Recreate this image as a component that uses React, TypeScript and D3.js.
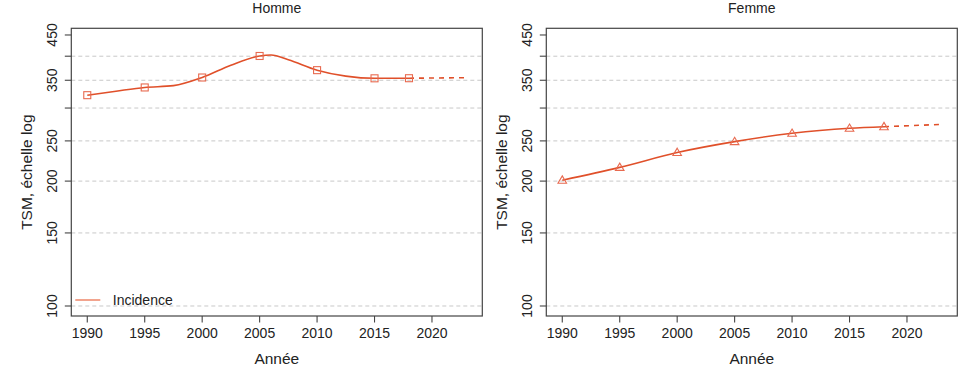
import React from "react";
import * as d3 from "d3";

const panelTitles = ["Homme", "Femme"];
const markerYears = [1990, 1995, 2000, 2005, 2010, 2015, 2018];
const hommeCurveYears = [1990, 1992.5, 1995, 1997.5, 2000, 2002.5, 2005, 2006, 2007.5, 2010, 2012.5, 2015, 2018];
const hommeCurveValues = [322.2, 329.4, 336.3, 339.7, 355.4, 380.4, 400.5, 402.7, 392.3, 370.2, 358.2, 353.8, 354];
const femmeCurveYears = [1990, 1995, 2000, 2005, 2010, 2015, 2018];
const femmeCurveValues = [201, 215.8, 234.4, 249, 260.8, 268.1, 270.5];
const projYears = [2018, 2023];
const hommeProj = [354, 355];
const femmeProj = [270.5, 274];
const xTicks = [1990, 1995, 2000, 2005, 2010, 2015, 2020];
const yTicks = [100, 150, 200, 250, 300, 350, 400, 450];
const yTickLabels = ["100", "150", "200", "250", "", "350", "", "450"];
const gridValues = [100, 150, 200, 250, 300, 350, 400];
const legendLabel = "Incidence";

const W = 971;
const H = 373;
const box = { left: 71.3, right: 482.3, top: 28.3, bottom: 316 };
const panelOffset = 475;
const lineColor = "#E0502A";
const markerColor = "#E86A50";
const textColor = "#222";
const font = "'Liberation Sans', Arial, Helvetica, sans-serif";

function Panel({ idx }: { idx: number }) {
  const dx = idx * panelOffset;
  const x = d3.scaleLinear().domain([1988.61, 2024.38]).range([box.left + dx, box.right + dx]);
  const y = d3.scaleLog().domain([94.6, 467]).range([box.bottom, box.top]);
  const cYears = idx === 0 ? hommeCurveYears : femmeCurveYears;
  const cVals = idx === 0 ? hommeCurveValues : femmeCurveValues;
  const proj = idx === 0 ? hommeProj : femmeProj;
  const pts: [number, number][] = cYears.map((yr, i) => [yr, cVals[i]]);
  const markers: [number, number][] = markerYears.map((yr) => [yr, cVals[cYears.indexOf(yr)]]);
  const projPts: [number, number][] = projYears.map((yr, i) => [yr, proj[i]]);
  const line = d3
    .line<[number, number]>()
    .x((d) => x(d[0]))
    .y((d) => y(d[1]))
    .curve(d3.curveMonotoneX);
  const projLine = d3
    .line<[number, number]>()
    .x((d) => x(d[0]))
    .y((d) => y(d[1]));
  const bl = box.left + dx;
  const br = box.right + dx;
  const cx = (bl + br) / 2;
  const cy = (box.top + box.bottom) / 2;
  return (
    <g>
      <text x={cx} y={13} textAnchor="middle" fontSize={14} fill={textColor} fontFamily={font}>
        {panelTitles[idx]}
      </text>
      {gridValues.map((v) => (
        <line
          key={"g" + v}
          x1={bl}
          x2={br}
          y1={y(v)}
          y2={y(v)}
          stroke="#c8c8c8"
          strokeWidth={1}
          strokeDasharray="4,3"
        />
      ))}
      <rect x={bl} y={box.top} width={br - bl} height={box.bottom - box.top} fill="none" stroke="#444" strokeWidth={1.2} />
      {yTicks.map((v, i) => (
        <g key={"yt" + v}>
          <line x1={bl - 6.5} x2={bl} y1={y(v)} y2={y(v)} stroke="#444" strokeWidth={1.1} />
          {yTickLabels[i] && (
            <text
              transform={`translate(${bl - 14},${y(v)}) rotate(-90)`}
              textAnchor="middle"
              fontSize={14}
              fill={textColor}
              fontFamily={font}
            >
              {yTickLabels[i]}
            </text>
          )}
        </g>
      ))}
      {xTicks.map((v) => (
        <g key={"xt" + v}>
          <line x1={x(v)} x2={x(v)} y1={box.bottom} y2={box.bottom + 6.5} stroke="#444" strokeWidth={1.1} />
          <text x={x(v)} y={338.3} textAnchor="middle" fontSize={14} fill={textColor} fontFamily={font}>
            {v}
          </text>
        </g>
      ))}
      <text x={cx} y={364} textAnchor="middle" fontSize={15.5} fill={textColor} fontFamily={font}>
        Année
      </text>
      <text
        transform={`translate(${bl - 39.6},${cy}) rotate(-90)`}
        textAnchor="middle"
        fontSize={15.5}
        fill={textColor}
        fontFamily={font}
      >
        TSM, échelle log
      </text>
      <path d={line(pts) || ""} fill="none" stroke={lineColor} strokeWidth={1.6} />
      <path d={projLine(projPts) || ""} fill="none" stroke={lineColor} strokeWidth={1.6} strokeDasharray="5,5" />
      {markers.map((p, i) =>
        idx === 0 ? (
          <rect
            key={"m" + i}
            x={x(p[0]) - 3.5}
            y={y(p[1]) - 3.5}
            width={7}
            height={7}
            fill="none"
            stroke={markerColor}
            strokeWidth={1.1}
          />
        ) : (
          <path
            key={"m" + i}
            d={`M${x(p[0])},${y(p[1]) - 4.3} L${x(p[0]) + 4.3},${y(p[1]) + 3} L${x(p[0]) - 4.3},${y(p[1]) + 3} Z`}
            fill="none"
            stroke={markerColor}
            strokeWidth={1.1}
          />
        )
      )}
      {idx === 0 && (
        <g>
          <line x1={bl + 4} x2={bl + 29} y1={300} y2={300} stroke="#F2A48E" strokeWidth={2} />
          <text x={bl + 41.5} y={305} fontSize={14} fill={textColor} fontFamily={font}>
            {legendLabel}
          </text>
        </g>
      )}
    </g>
  );
}

export default function App() {
  return (
    <svg width={W} height={H} style={{ position: "absolute", left: 0, top: 0, background: "#fff" }}>
      <rect width={W} height={H} fill="#fff" />
      <Panel idx={0} />
      <Panel idx={1} />
    </svg>
  );
}
